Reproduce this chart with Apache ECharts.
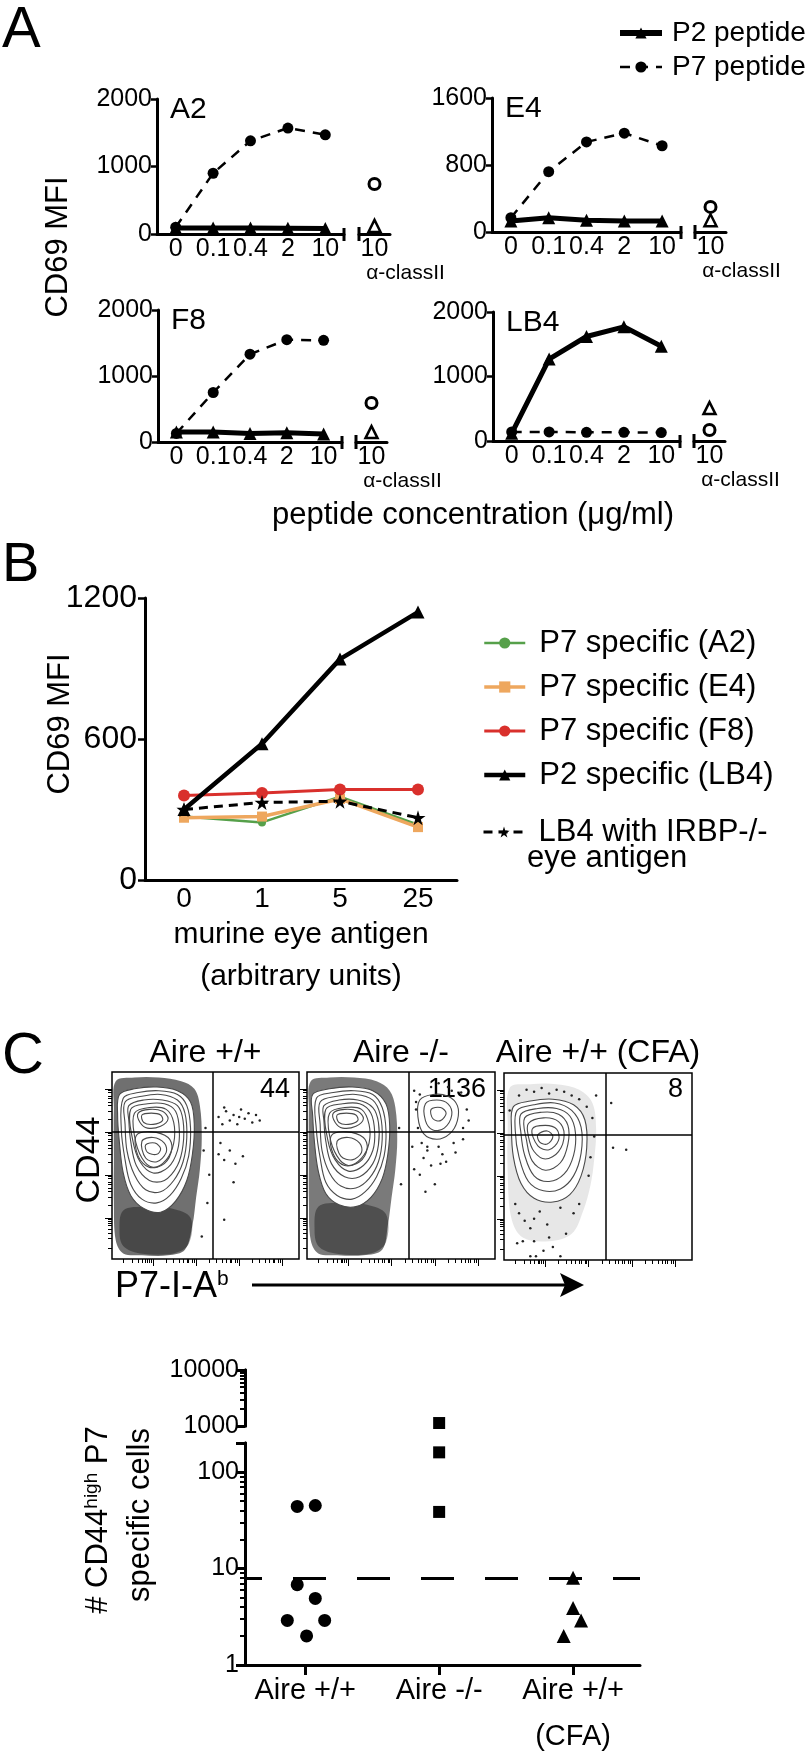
<!DOCTYPE html>
<html><head><meta charset="utf-8">
<script src="https://cdn.jsdelivr.net/npm/echarts@6/dist/echarts.min.js"></script>
<style>html,body{margin:0;padding:0;background:#fff}#c{width:810px;height:1760px}</style>
</head><body><div id="c"></div>
<script>
const FONT = '"Liberation Sans", Arial, Helvetica, sans-serif';

// ---------- Panel A data ----------
const concCats = ['0', '0.1', '0.4', '2', '10'];
const abCats = ['10'];
const A2_P2 = [90, 90, 90, 85, 80];
const A2_P7 = [100, 900, 1380, 1570, 1470];
const A2_abP2 = [120];
const A2_abP7 = [740];
const E4_P2 = [130, 170, 140, 130, 130];
const E4_P7 = [170, 720, 1075, 1180, 1030];
const E4_abP2 = [140];
const E4_abP7 = [300];
const F8_P2 = [150, 150, 130, 140, 120];
const F8_P7 = [130, 750, 1330, 1550, 1540];
const F8_abP2 = [150];
const F8_abP7 = [590];
const LB4_P2 = [120, 1270, 1620, 1770, 1470];
const LB4_P7 = [140, 140, 135, 135, 130];
const LB4_abP2 = [510];
const LB4_abP7 = [170];

// ---------- Panel B data ----------
const antigenCats = ['0', '1', '5', '25'];
const B_A2 = [270, 245, 355, 235];
const B_E4 = [265, 270, 345, 225];
const B_F8 = [360, 370, 385, 385];
const B_LB4 = [300, 580, 940, 1140];
const B_LB4_IRBP = [300, 330, 335, 265];

// ---------- Panel C flow plots (shapes in % of plot range) ----------
const flowTitles = ['Aire +/+', 'Aire -/-', 'Aire +/+ (CFA)'];
const flowCounts = ['44', '1136', '8'];
const flowMajorTicks = [22, 45, 68, 91];
const flowMinorTicks = [6, 11, 14, 16, 18, 19, 20, 21, 29, 33, 36, 38, 40, 41, 43, 44, 52, 56, 59, 61, 63, 64, 66, 67, 75, 79, 82, 84, 86, 87, 89, 90];
const flowGateX = [54, 54, 54];
const flowGateY = [68, 68, 67];

const flow1Halo = [[2,95],[12,97],[25,97],[37,95],[44,91],[47,82],[48,65],[47,48],[45,33],[43,18],[39,5],[30,2],[16,2],[6,3],[2,10],[1,30],[1,55],[1,80]];
const flow1Tail = [[6,26],[18,28],[32,27],[42,22],[41,8],[33,3],[15,3],[6,7],[4,15]];
const flow1Rings = [
  [[4,88],[12,91],[24,92],[35,90],[42,84],[44,72],[43,56],[40,42],[34,31],[26,25],[17,27],[10,34],[6,46],[4,62],[3,77]],
  [[6,86],[14,89],[25,90],[35,88],[40,82],[42,70],[41,55],[37,43],[31,34],[24,30],[16,32],[10,40],[7,53],[5,69]],
  [[7,84],[16,87],[26,88],[35,85],[39,78],[40,65],[38,52],[33,42],[26,36],[18,37],[12,45],[8,58],[7,72]],
  [[9,82],[17,85],[27,85],[35,82],[38,74],[38,61],[35,50],[28,42],[20,42],[13,50],[10,63],[9,74]],
  [[10,80],[19,83],[28,83],[34,79],[36,69],[35,58],[30,49],[22,46],[15,52],[11,64]],
  [[12,78],[20,81],[29,80],[33,73],[33,62],[29,53],[22,49],[16,54],[12,66]],
  [[14,78],[20,80],[27,79],[30,75],[26,71],[19,70],[15,73]],
  [[16,77],[21,78],[26,77],[27,74],[22,72],[17,73]],
  [[13,66],[21,68],[30,65],[32,59],[28,51],[20,49],[14,55]],
  [[16,63],[22,65],[28,62],[29,57],[24,52],[18,54]],
  [[18,61],[23,62],[26,59],[24,56],[19,57]]
];
const flow1Dots = [[57,76],[59,72],[61,79],[63,74],[65,77],[67,72],[69,80],[71,75],[73,78],[75,73],[77,77],[79,74],[60,81],[68,76],
  [57,56],[60,53],[63,58],[66,51],[70,55],[65,41],[60,21],[58,62],[51,30],[52,45],[48,12],[50,70],[49,58]];

const flow2Halo = [[2,95],[12,97],[25,97],[37,95],[44,90],[47,81],[48,64],[47,48],[45,33],[43,18],[40,5],[30,2],[16,2],[6,3],[2,10],[1,30],[1,55],[1,80]];
const flow2Tail = [[6,28],[18,30],[32,29],[42,24],[42,9],[34,3],[15,3],[6,7],[4,16]];
const flow2Rings = [
  [[3,88],[12,91],[24,92],[35,90],[42,83],[44,71],[43,56],[40,43],[34,33],[26,28],[17,29],[10,35],[6,47],[4,62],[3,77]],
  [[5,86],[14,89],[25,90],[35,88],[40,81],[42,69],[41,55],[37,44],[31,36],[24,32],[16,34],[10,41],[7,54],[5,69]],
  [[7,84],[16,87],[26,88],[35,85],[39,77],[40,64],[38,52],[33,43],[26,38],[18,39],[12,46],[8,58],[7,72]],
  [[9,82],[17,85],[27,85],[35,81],[38,73],[38,61],[35,51],[28,44],[20,44],[13,51],[10,63],[9,74]],
  [[10,80],[19,83],[28,83],[34,78],[36,68],[35,58],[30,50],[22,47],[15,53],[11,64]],
  [[12,78],[20,81],[29,80],[33,72],[33,62],[29,54],[22,50],[16,55],[12,66]],
  [[14,78],[20,80],[27,79],[30,75],[26,71],[19,70],[15,73]],
  [[16,77],[21,78],[26,77],[27,74],[22,72],[17,73]],
  [[13,66],[21,68],[30,65],[32,59],[28,52],[20,50],[14,56]],
  [[16,63],[22,65],[28,62],[29,57],[24,53],[18,55]],
  [[60,85],[67,88],[75,87],[80,82],[80,74],[76,67],[69,64],[62,67],[59,76]],
  [[63,83],[69,85],[75,83],[77,77],[73,70],[67,69],[63,74]],
  [[66,80],[71,81],[74,78],[71,74],[67,75]]
];
const flow2Dots = [[57,90],[59,70],[61,62],[64,58],[70,60],[78,62],[83,70],[85,80],[82,89],[75,92],[66,92],[58,80],[62,54],[66,50],[60,45],
  [57,48],[72,56],[68,40],[63,36],[74,52],[56,60],[79,57],[86,74],[60,88],[70,94],[58,84],[83,64],[77,90],[64,60],[71,51],[49,70],[50,40]];

const flow3Halo = [[3,92],[14,94],[28,94],[40,91],[47,84],[49,70],[48,54],[46,40],[42,26],[36,14],[24,10],[10,12],[4,22],[2,45],[2,72]];
const flow3Rings = [
  [[5,82],[14,85],[26,86],[37,83],[43,75],[44,60],[41,45],[35,35],[26,31],[16,33],[9,41],[5,55],[4,70]],
  [[7,80],[16,83],[27,84],[36,80],[41,71],[41,57],[37,45],[30,38],[21,37],[13,42],[8,55],[6,69]],
  [[9,78],[18,81],[28,81],[35,77],[38,68],[37,56],[32,46],[24,42],[16,45],[11,56],[9,68]],
  [[11,76],[20,79],[29,78],[34,72],[34,62],[30,52],[22,48],[15,53],[12,64]],
  [[13,73],[21,76],[29,74],[32,67],[29,58],[22,54],[16,58],[13,66]],
  [[15,70],[22,72],[28,70],[29,64],[24,59],[18,61]],
  [[18,67],[23,69],[26,66],[23,62],[19,63]]
];
const flow3Dots = [[6,30],[8,25],[11,21],[14,17],[16,22],[19,26],[23,19],[24,12],[26,7],[21,5],[17,2],[14,2],[30,2],[33,14],[37,25],[40,30],
  [30,28],[7,9],[10,10],[16,10],[8,88],[12,91],[16,90],[20,92],[24,89],[28,91],[32,90],[36,88],[40,86],[44,82],[47,76],[48,66],
  [46,55],[45,45],[3,80],[57,84],[58,60],[65,59],[49,88]];

// ---------- Panel C scatter data ----------
const groupCats = ['Aire +/+', 'Aire -/-', 'Aire +/+\n(CFA)'];
const wtCells = [[0.44, 44], [0.575, 45], [0.44, 6.8], [0.575, 4.9], [0.366, 2.9], [0.645, 2.9], [0.51, 2.0]];
const koCells = [[1.5, 1130], [1.5, 160], [1.5, 38.6]];
const cfaCells = [[2.5, 8], [2.5, 3.9], [2.56, 2.9], [2.43, 2.0]];
const cutoff = 8;
const upperMajor = [1000, 10000];
const upperMinor = [2000, 3000, 4000, 5000, 6000, 7000, 8000, 9000];
const lowerLabels = [1, 10, 100];
const lowerMajor = [1, 10, 100, 200];
const lowerMinor = [2, 3, 4, 5, 6, 7, 8, 9, 20, 30, 40, 50, 60, 70, 80, 90];
const groupTicks = [0.5, 1.5, 2.5];

// ---------- build option ----------
const txt = (size) => ({ fontSize: size, color: '#000', fontFamily: FONT });
const plain = (v) => String(v);
const blackLine = { color: '#000', width: 3 };
const grid = [], xAxis = [], yAxis = [], series = [], graphic = [];

const subplots = [
  { name: 'A2', p2: A2_P2, p7: A2_P7, abP2: A2_abP2, abP7: A2_abP7, max: 2000, interval: 1000, left: 157, top: 99, width: 187, height: 135, abLeft: 359 },
  { name: 'E4', p2: E4_P2, p7: E4_P7, abP2: E4_abP2, abP7: E4_abP7, max: 1600, interval: 800, left: 492, top: 98, width: 189, height: 134, abLeft: 695 },
  { name: 'F8', p2: F8_P2, p7: F8_P7, abP2: F8_abP2, abP7: F8_abP7, max: 2000, interval: 1000, left: 158, top: 310, width: 184, height: 132, abLeft: 356 },
  { name: 'LB4', p2: LB4_P2, p7: LB4_P7, abP2: LB4_abP2, abP7: LB4_abP7, max: 2000, interval: 1000, left: 493, top: 312, width: 187, height: 129, abLeft: 694 }
];

subplots.forEach((sp) => {
  const g = grid.length;
  grid.push({ left: sp.left, top: sp.top, width: sp.width, height: sp.height });
  grid.push({ left: sp.abLeft, top: sp.top, width: 31, height: sp.height });
  xAxis.push({ gridIndex: g, type: 'category', data: concCats,
    axisLine: { lineStyle: blackLine }, axisTick: { length: 5, lineStyle: { color: '#000', width: 2.5 } },
    axisLabel: Object.assign({ interval: 0, margin: 3 }, txt(25)) });
  yAxis.push({ gridIndex: g, type: 'value', min: 0, max: sp.max, interval: sp.interval,
    axisLine: { show: true, lineStyle: blackLine }, axisTick: { show: true, length: 6, lineStyle: { color: '#000', width: 2.5 } },
    splitLine: { show: false }, axisLabel: Object.assign({ margin: 5, formatter: plain }, txt(25)) });
  xAxis.push({ gridIndex: g + 1, type: 'category', data: abCats,
    axisLine: { lineStyle: blackLine }, axisTick: { show: false },
    axisLabel: Object.assign({ margin: 3 }, txt(25)),
    name: 'α-classII', nameLocation: 'middle', nameGap: 23,
    nameTextStyle: Object.assign({ padding: [0, 0, 0, 62] }, txt(21)) });
  yAxis.push({ gridIndex: g + 1, type: 'value', min: 0, max: sp.max, show: false });
  series.push({ type: 'line', name: 'P7 peptide', xAxisIndex: g, yAxisIndex: g, data: sp.p7,
    symbol: 'circle', symbolSize: 11, lineStyle: { color: '#000', width: 2.5, type: [10, 8] }, itemStyle: { color: '#000' } });
  series.push({ type: 'line', name: 'P2 peptide', xAxisIndex: g, yAxisIndex: g, data: sp.p2,
    symbol: 'triangle', symbolSize: 13, lineStyle: { color: '#000', width: 5 }, itemStyle: { color: '#000' } });
  series.push({ type: 'scatter', name: 'P7 a-classII', xAxisIndex: g + 1, yAxisIndex: g + 1, data: sp.abP7,
    symbol: 'circle', symbolSize: 11, itemStyle: { color: '#fff', borderColor: '#000', borderWidth: 3, opacity: 1 } });
  series.push({ type: 'scatter', name: 'P2 a-classII', xAxisIndex: g + 1, yAxisIndex: g + 1, data: sp.abP2,
    symbol: 'triangle', symbolSize: 12, itemStyle: { color: '#fff', borderColor: '#000', borderWidth: 2.5, opacity: 1 } });
  graphic.push({ type: 'text', x: sp.left + 13, y: sp.top + 11, style: { text: sp.name, fill: '#000', align: 'left', verticalAlign: 'middle', fontSize: 30, fontFamily: FONT } });
  const y0 = sp.top + sp.height;
  graphic.push({ type: 'line', shape: { x1: sp.left + sp.width, y1: y0 - 6, x2: sp.left + sp.width, y2: y0 + 7 }, style: { stroke: '#000', lineWidth: 3 } });
  graphic.push({ type: 'line', shape: { x1: sp.abLeft, y1: y0 - 7, x2: sp.abLeft, y2: y0 + 7 }, style: { stroke: '#000', lineWidth: 3 } });
});

// Panel B
const gB = grid.length;
grid.push({ left: 145, top: 598, width: 312, height: 282 });
xAxis.push({ gridIndex: gB, type: 'category', data: antigenCats,
  axisLine: { lineStyle: blackLine }, axisTick: { length: 8, lineStyle: { color: '#000', width: 2.5 } },
  axisLabel: Object.assign({ margin: 5 }, txt(28)),
  name: 'murine eye antigen\n(arbitrary units)', nameLocation: 'middle', nameGap: 29,
  nameTextStyle: Object.assign({ lineHeight: 42 }, txt(30)) });
yAxis.push({ gridIndex: gB, type: 'value', min: 0, max: 1200, interval: 600,
  axisLine: { show: true, lineStyle: blackLine }, axisTick: { show: true, length: 7, lineStyle: { color: '#000', width: 2.5 } },
  splitLine: { show: false }, axisLabel: Object.assign({ margin: 8, formatter: plain }, txt(32)) });
const starPath = 'path://M50,0 L61,35 L98,35 L68,57 L79,91 L50,70 L21,91 L32,57 L2,35 L39,35 Z';
const bSeries = [
  { name: 'P7 specific (A2)', data: B_A2, color: '#56a04a', width: 2.5, symbol: 'circle', size: 8 },
  { name: 'P7 specific (E4)', data: B_E4, color: '#eea75e', width: 3.5, symbol: 'rect', size: 10 },
  { name: 'P7 specific (F8)', data: B_F8, color: '#d9302c', width: 3, symbol: 'circle', size: 12 },
  { name: 'LB4 with IRBP-/-', data: B_LB4_IRBP, color: '#000', width: 3, symbol: starPath, size: 15, dash: [9, 6] },
  { name: 'P2 specific (LB4)', data: B_LB4, color: '#000', width: 4.5, symbol: 'triangle', size: 13 }
];
bSeries.forEach((s) => {
  series.push({ type: 'line', name: s.name, xAxisIndex: gB, yAxisIndex: gB, data: s.data,
    symbol: s.symbol, symbolSize: s.size, lineStyle: { color: s.color, width: s.width, type: s.dash || 'solid' },
    itemStyle: { color: s.color } });
});

// Panel C flow plots
const flowPlots = [
  { left: 112, top: 1072, width: 187, halo: flow1Halo, haloFill: 'rgba(25,25,25,0.62)', tail: flow1Tail, rings: flow1Rings, dots: flow1Dots },
  { left: 307, top: 1072, width: 188, halo: flow2Halo, haloFill: 'rgba(25,25,25,0.58)', tail: flow2Tail, rings: flow2Rings, dots: flow2Dots },
  { left: 504, top: 1073, width: 188, halo: flow3Halo, haloFill: 'rgba(60,60,60,0.12)', tail: null, rings: flow3Rings, dots: flow3Dots }
];
flowPlots.forEach((fp, k) => {
  const g = grid.length;
  grid.push({ left: fp.left, top: fp.top, width: fp.width, height: 187, show: true, borderColor: '#000', borderWidth: 1.5 });
  const xa = xAxis.length, ya = yAxis.length;
  [[flowMinorTicks, 4], [flowMajorTicks, 7]].forEach(([vals, len]) => {
    xAxis.push({ gridIndex: g, type: 'value', min: 0, max: 100, position: 'bottom', offset: 0, axisLine: { show: false }, splitLine: { show: false },
      axisLabel: { show: false }, axisTick: { show: true, length: len, customValues: vals, lineStyle: { color: '#000', width: 1 } } });
    yAxis.push({ gridIndex: g, type: 'value', min: 0, max: 100, position: 'left', offset: 0, axisLine: { show: false }, splitLine: { show: false },
      axisLabel: { show: false }, axisTick: { show: true, length: len, customValues: vals, lineStyle: { color: '#000', width: 1 } } });
  });
  const shapes = [{ pts: fp.halo, fill: fp.haloFill, stroke: null, lw: 0 }];
  if (fp.tail) shapes.push({ pts: fp.tail, fill: 'rgba(0,0,0,0.35)', stroke: null, lw: 0 });
  fp.rings.forEach((r, j) => shapes.push({ pts: r, fill: j === 0 ? '#fff' : null, stroke: '#4a4a4a', lw: 1.1 }));
  series.push({ type: 'custom', xAxisIndex: xa, yAxisIndex: ya, clip: true, silent: true,
    data: shapes.map(() => [50, 50]),
    renderItem: (params, api) => {
      const s = shapes[params.dataIndex];
      return { type: 'polygon', shape: { points: s.pts.map((p) => api.coord(p)), smooth: 0.35 },
        style: { fill: s.fill, stroke: s.stroke, lineWidth: s.lw } };
    } });
  series.push({ type: 'scatter', xAxisIndex: xa, yAxisIndex: ya, data: fp.dots, symbolSize: 2.5, silent: true,
    itemStyle: { color: '#222', opacity: 1 },
    markLine: { silent: true, symbol: ['none', 'none'], label: { show: false }, animation: false,
      lineStyle: { color: '#000', width: 1.5, type: 'solid' },
      data: [{ xAxis: flowGateX[k] }, { yAxis: flowGateY[k] }] } });
  graphic.push({ type: 'text', x: fp.left + fp.width / 2, y: 1053, style: { text: flowTitles[k], fill: '#000', fontSize: 32, fontFamily: FONT, align: 'center', verticalAlign: 'middle' } });
  graphic.push({ type: 'text', x: fp.left + fp.width - 9, y: 1090, style: { text: flowCounts[k], fill: '#000', fontSize: 27, fontFamily: FONT, align: 'right', verticalAlign: 'middle' } });
});

// Panel C scatter (broken log axis)
const gU = grid.length;
grid.push({ left: 245, top: 1370, width: 395, height: 56 });
grid.push({ left: 245, top: 1443, width: 395, height: 224 });
const xU = xAxis.length;
xAxis.push({ gridIndex: gU, type: 'value', min: 0.05, max: 3, show: false });
xAxis.push({ gridIndex: gU + 1, type: 'value', min: 0.05, max: 3, splitLine: { show: false },
  axisLine: { show: true, onZero: false, lineStyle: blackLine },
  axisTick: { show: true, length: 10, customValues: groupTicks, lineStyle: { color: '#000', width: 3 } },
  axisLabel: Object.assign({ customValues: groupTicks, margin: 3, lineHeight: 46, formatter: (v) => groupCats[Math.floor(v)] }, txt(29)) });
const yU = yAxis.length;
const logAxis = (g, min, max, ticks, len, labels) => ({ gridIndex: g, type: 'log', logBase: 10, min, max, position: 'left', offset: 0,
  axisLine: { show: true, lineStyle: blackLine }, splitLine: { show: false }, minorTick: { show: false },
  axisTick: { show: true, length: len, customValues: ticks, lineStyle: { color: '#000', width: len > 6 ? 3 : 2 } },
  axisLabel: labels ? Object.assign({ customValues: labels, margin: 6, formatter: (v) => String(Math.round(v)) }, txt(25)) : { show: false } });
yAxis.push(logAxis(gU, 1000, 10000, upperMajor, 9, upperMajor));
yAxis.push(logAxis(gU + 1, 1, 200, lowerMajor, 9, lowerLabels));
yAxis.push(logAxis(gU, 1000, 10000, upperMinor, 5, null));
yAxis.push(logAxis(gU + 1, 1, 200, lowerMinor, 5, null));
[[xU, yU], [xU + 1, yU + 1]].forEach(([xi, yi], seg) => {
  series.push({ type: 'scatter', name: 'Aire +/+', xAxisIndex: xi, yAxisIndex: yi, data: wtCells, symbol: 'circle', symbolSize: 13, itemStyle: { color: '#000', opacity: 1 }, clip: true });
  series.push({ type: 'scatter', name: 'Aire -/-', xAxisIndex: xi, yAxisIndex: yi, data: koCells, symbol: 'rect', symbolSize: 12, itemStyle: { color: '#000', opacity: 1 }, clip: true });
  const cfa = { type: 'scatter', name: 'Aire +/+ (CFA)', xAxisIndex: xi, yAxisIndex: yi, data: cfaCells, symbol: 'triangle', symbolSize: 14, itemStyle: { color: '#000', opacity: 1 }, clip: true };
  if (seg === 1) {
    cfa.markLine = { silent: true, symbol: ['none', 'none'], label: { show: false }, animation: false,
      lineStyle: { color: '#000', width: 3, type: [33, 31], dashOffset: 16 }, data: [{ yAxis: cutoff }] };
  }
  series.push(cfa);
});

// ---------- free text ----------
const T = (text, x, y, size, opts) => Object.assign({ type: 'text', x, y,
  style: Object.assign({ text, fill: '#000', fontSize: size, fontFamily: FONT, align: 'center', verticalAlign: 'middle' }, (opts && opts.style) || {}) },
  (opts && opts.el) || {});
graphic.push(T('A', 2, 31, 58, { style: { align: 'left' } }));
graphic.push(T('B', 2, 566, 56, { style: { align: 'left' } }));
graphic.push(T('C', 2, 1057, 58, { style: { align: 'left' } }));
graphic.push(T('CD69 MFI', 58, 247, 31, { el: { rotation: Math.PI / 2 } }));
graphic.push(T('peptide concentration (μg/ml)', 473, 515, 31));
graphic.push(T('CD69 MFI', 60, 724, 31, { el: { rotation: Math.PI / 2 } }));
graphic.push(T('eye antigen', 527, 858, 31, { style: { align: 'left' } }));
graphic.push(T('CD44', 90, 1160, 34, { el: { rotation: Math.PI / 2 } }));
graphic.push(T('P7-I-A{s|b}', 115, 1287, 36, { style: { align: 'left', rich: { s: { fontSize: 21, verticalAlign: 'top', fontFamily: FONT } } } }));
graphic.push({ type: 'line', shape: { x1: 252, y1: 1285, x2: 566, y2: 1285 }, style: { stroke: '#000', lineWidth: 3 } });
graphic.push({ type: 'polygon', shape: { points: [[584, 1285], [560, 1273], [565, 1285], [560, 1297]] }, style: { fill: '#000' } });
graphic.push(T('# CD44{h|high} P7', 98, 1520, 31, { el: { rotation: Math.PI / 2 }, style: { rich: { h: { fontSize: 19, verticalAlign: 'top', fontFamily: FONT } } } }));
graphic.push(T('specific cells', 140, 1515, 31, { el: { rotation: Math.PI / 2 } }));

const option = {
  animation: false,
  textStyle: { fontFamily: FONT },
  grid, xAxis, yAxis, series, graphic,
  legend: [
    { orient: 'vertical', left: 612, top: 13, itemWidth: 42, itemHeight: 14, itemGap: 4, selectedMode: false,
      data: [{ name: 'P2 peptide', lineStyle: { width: 6 } }, { name: 'P7 peptide', lineStyle: { width: 2.5 } }],
      textStyle: Object.assign({ lineHeight: 30, padding: [0, 0, 0, 5] }, txt(28)) },
    { orient: 'vertical', left: 477, top: 621, itemWidth: 41, itemHeight: 14, itemGap: 10, selectedMode: false,
      data: bSeries.filter((s) => s.name !== 'LB4 with IRBP-/-').map((s) => ({ name: s.name, lineStyle: { width: s.width } })),
      textStyle: Object.assign({ lineHeight: 34, padding: [0, 0, 0, 9] }, txt(31)) },
    { orient: 'vertical', left: 477, top: 810, itemWidth: 41, itemHeight: 14, selectedMode: false,
      data: [{ name: 'LB4 with IRBP-/-', lineStyle: { width: 3 } }],
      textStyle: Object.assign({ lineHeight: 34, padding: [0, 0, 0, 9] }, txt(31)) }
  ]
};
const chart = echarts.init(document.getElementById('c'), null, { renderer: 'canvas' });
chart.setOption(option);
</script>
</body></html>
